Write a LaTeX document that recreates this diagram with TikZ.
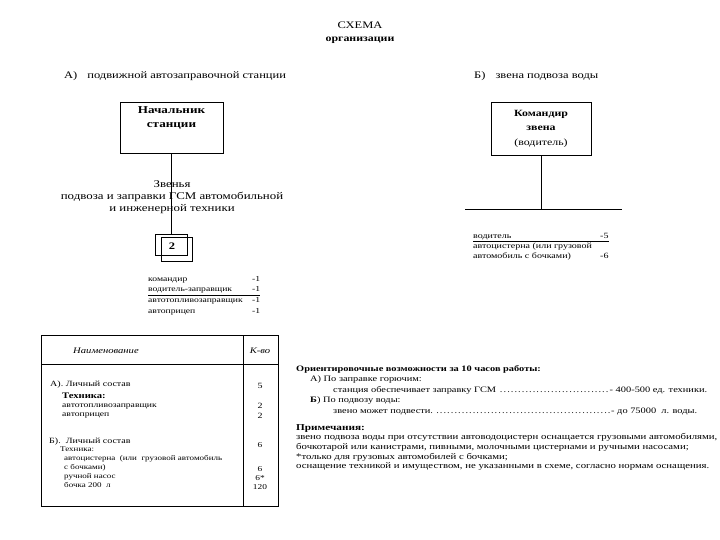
\documentclass[tikz,border=0pt]{standalone}
\usepackage{fontspec}
\setmainfont{Liberation Serif}[FakeStretch=1.25]
\usetikzlibrary{positioning}
\newcommand{\fsz}[2]{\fontsize{#1}{#2}\selectfont}

\begin{document}
\begin{tikzpicture}[x=1pt,y=-1pt,
    box/.style={draw,line width=0.8pt,inner sep=0pt},
    txt/.style={inner sep=0pt,font=\fsz{8}{10.5}},
  ]
  \useasboundingbox (0,0) rectangle (720,540);

  % title
  \node[txt,font=\fsz{10}{12}] (title) at (360,25) {СХЕМА};
  \node[txt,font=\bfseries\fsz{9.5}{10}] (sub) at (360,40) {организации};
  \node[txt,font=\fsz{10}{12},anchor=west] (ha) at (64,76) {А)\quad подвижной автозаправочной станции};
  \node[txt,font=\fsz{10}{12},anchor=west] (hb) at (474,76) {Б)\quad звена подвоза воды};

  % A) station
  \node[box,minimum width=103pt,minimum height=51pt] (chief) at (171.5,127.5) {};
  \node[txt,font=\bfseries\fsz{10.5}{14},align=center,anchor=north,yshift=-5pt] (chieft) at (chief.north) {Начальник\\станции};
  \node[box,minimum width=32pt,minimum height=21pt] (grp) at (171,244.5) {};
  \node[box,minimum width=31pt,minimum height=24pt] (grpb) at (176.5,249) {};
  \node[txt,font=\bfseries\fsz{10}{12}] (num) at (172,246) {2};
  \draw[line width=0.8pt] (chief.south -| grp.north) -- (grp.north);
  \node[txt,font=\fsz{10.3}{12},align=center] (links) at (172,197) {Звенья\\подвоза и заправки ГСМ автомобильной\\и инженерной техники};
  \node[txt,anchor=north west,font=\fsz{7.7}{10.4}] (crewa) at (148,274) {\renewcommand{\arraystretch}{1}%
    \begin{tabular}{@{}p{104pt}@{}r@{}}
      командир & -1\\
      водитель-заправщик & -1\\\hline
      автотопливозаправщик & -1\\
      автоприцеп & -1
    \end{tabular}};

  % B) water link
  \node[box,minimum width=100pt,minimum height=53pt,align=center,font=\fsz{9.5}{14.5}] (cmd) at (541,128.5) {\textbf{Командир}\\\textbf{звена}\\(водитель)};
  \coordinate (join) at (541,209);
  \coordinate (jl) at (465,209);
  \coordinate (jr) at (622,209);
  \draw[line width=0.8pt] (cmd.south) -- (join);
  \draw[line width=0.8pt] (jl) -- (jr);
  \node[txt,anchor=north west] (crewb) at (473,231) {\renewcommand{\arraystretch}{0.95}%
    \begin{tabular}{@{}p{127pt}@{}r@{}}
      водитель & -5\\\hline
      автоцистерна (или грузовой & \\
      автомобиль с бочками) & -6
    \end{tabular}};

  % table
  \draw[line width=0.8pt] (41,335) rectangle (278,506);
  \draw[line width=0.8pt] (243,335) -- (243,506);
  \draw[line width=0.8pt] (41,364) -- (278,364);
  \node[txt,font=\itshape\fsz{8.5}{10}] (name) at (106,351) {Наименование};
  \node[txt,font=\itshape\fsz{8.5}{10}] (qty) at (260,351) {К-во};
  \node[txt,anchor=west] (ra) at (50,385) {А). Личный состав};
  \node[txt,anchor=west,font=\bfseries\fsz{8.5}{10}] (rat) at (62,396) {Техника:};
  \node[txt,anchor=west,font=\fsz{7.7}{9}] (ra1) at (62,407) {автотопливозаправщик};
  \node[txt,anchor=west,font=\fsz{7.7}{9}] (ra2) at (62,416) {автоприцеп};
  \node[txt] (qa) at (260,386) {5};
  \node[txt] (qa1) at (260,406) {2};
  \node[txt] (qa2) at (260,416) {2};
  \node[txt,anchor=west] (rb) at (49,442) {Б).\ \ Личный состав};
  \node[txt,anchor=north west,font=\fsz{7.2}{8.9},align=left] (rbt) at (60,447) {Техника:\\\hspace*{4pt}автоцистерна\ \ (или\ \ грузовой автомобиль\\\hspace*{4pt}с бочками)\\\hspace*{4pt}ручной насос\\\hspace*{4pt}бочка 200\ \ л};
  \node[txt,font=\fsz{7.5}{9}] (qb) at (260,445) {6};
  \node[txt,font=\fsz{7.5}{9},align=center,anchor=north] (qbt) at (260,466) {6\\6*\\120};

  % notes
  \node[txt,anchor=north west,align=left,font=\fsz{8.3}{10.6}] (est) at (296,365) {\textbf{Ориентировочные возможности за 10 часов работы:}\\
    \hspace*{14pt}А) По заправке горючим:\\
    \hspace*{37pt}\makebox[374pt][l]{станция обеспечивает заправку ГСМ\ \dotfill- 400-500 ед. техники.}\\
    \hspace*{14pt}\textbf{Б}) По подвозу воды:\\
    \hspace*{37pt}\makebox[364pt][l]{звено может подвести.\ \dotfill- до 75000\ \ л. воды.}};
  \node[txt,anchor=north west,align=left,font=\fsz{8.6}{9.7}] (notes) at (296,424) {\textbf{\fsz{9}{9.7}Примечания:}\\
    звено подвоза воды при отсутствии автоводоцистерн оснащается грузовыми автомобилями,\\
    бочкотарой или канистрами, пивными, молочными цистернами и ручными насосами;\\
    *только для грузовых автомобилей с бочками;\\
    оснащение техникой и имуществом, не указанными в схеме, согласно нормам оснащения.};
\end{tikzpicture}
\end{document}
